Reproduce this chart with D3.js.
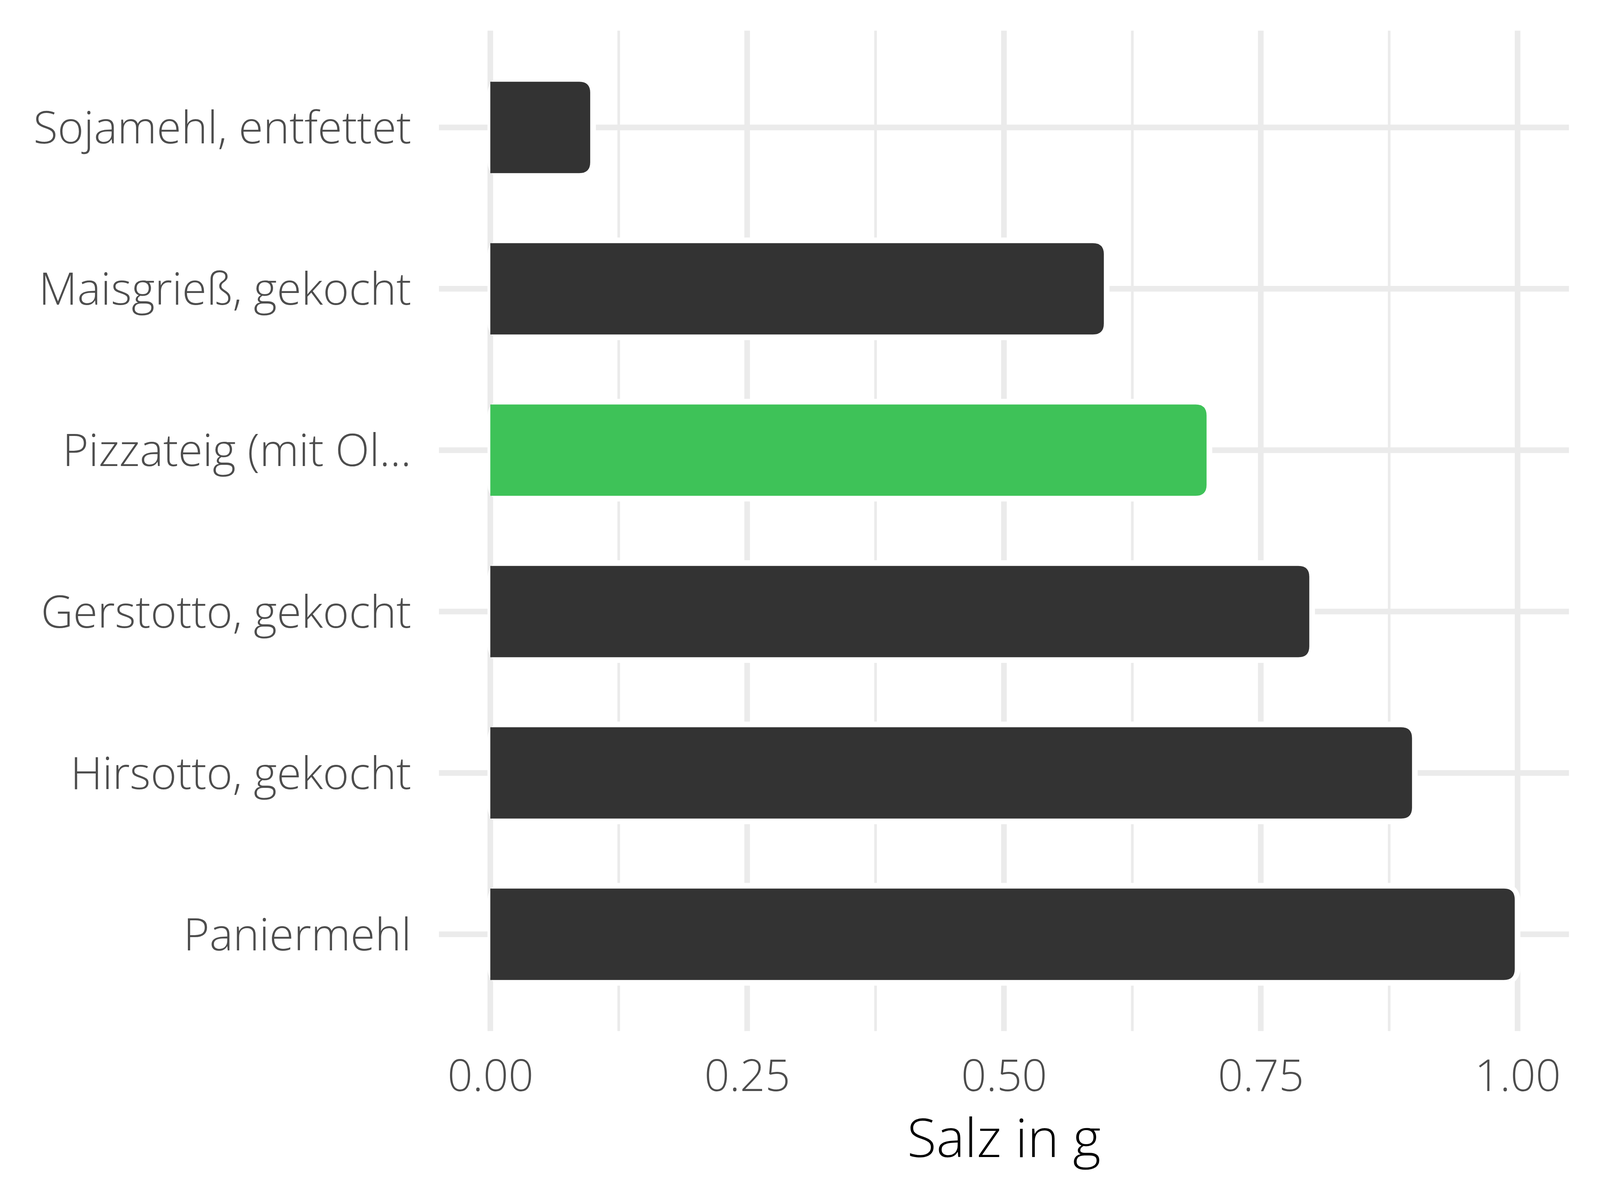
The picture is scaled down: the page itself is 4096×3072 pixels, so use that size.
<!DOCTYPE html>
<html>
<head>
<meta charset="utf-8">
<script src="https://cdn.jsdelivr.net/npm/d3@7"></script>
<style>
  html, body { margin: 0; padding: 0; background: #ffffff; }
  svg { display: block; }
</style>
</head>
<body>
<svg id="chart" width="4096" height="3072"></svg>
<script>
// ---- data ----
const categories = [
  "Sojamehl, entfettet",
  "Maisgrieß, gekocht",
  "Pizzateig (mit Ol...",
  "Gerstotto, gekocht",
  "Hirsotto, gekocht",
  "Paniermehl"
];
const values = [0.1, 0.6, 0.7, 0.8, 0.9, 1.0];
const highlighted = [false, false, true, false, false, false];
const majorTicks = [0, 0.25, 0.5, 0.75, 1.0];
const minorTicks = [0.125, 0.375, 0.625, 0.875];
const xTitle = "Salz in g";

// ---- layout ----
const W = 4096, H = 3072;
const x0px = 1255.2, x1px = 3885.0;          // positions of 0 and 1
const panelTop = 78.4, panelBottom = 2639.6;
const span = x1px - x0px;
const panelLeft = x0px - 0.05 * span, panelRight = x1px + 0.05 * span;

const x = d3.scaleLinear().domain([0, 1]).range([x0px, x1px]);
const y = d3.scalePoint().domain(categories).range([panelTop, panelBottom]).padding(0.6);

const svg = d3.select("#chart");
svg.append("rect").attr("width", W).attr("height", H).attr("fill", "#ffffff");

const grid = svg.append("g").attr("class", "grid");
// minor vertical gridlines
grid.selectAll("line.minor").data(minorTicks).enter().append("line")
  .attr("x1", d => x(d)).attr("x2", d => x(d))
  .attr("y1", panelTop).attr("y2", panelBottom)
  .attr("stroke", "#EBEBEB").attr("stroke-width", 6.8);
// major vertical gridlines
grid.selectAll("line.major").data(majorTicks).enter().append("line")
  .attr("x1", d => x(d)).attr("x2", d => x(d))
  .attr("y1", panelTop).attr("y2", panelBottom)
  .attr("stroke", "#EBEBEB").attr("stroke-width", 14.4);
// horizontal gridlines
grid.selectAll("line.h").data(categories).enter().append("line")
  .attr("x1", panelLeft).attr("x2", panelRight)
  .attr("y1", d => y(d)).attr("y2", d => y(d))
  .attr("stroke", "#EBEBEB").attr("stroke-width", 14.5);

// ---- bars ----
const halfH = 116.9;     // half height of dark bar
const halo = 14.5;       // white outline around bars
const inset = 7.25;      // bar end inset relative to value
const r = 28;            // corner radius

function rightRounded(xl, xr, yt, yb, rad) {
  const rr = Math.min(rad, (xr - xl), (yb - yt) / 2);
  return `M${xl},${yt} L${xr - rr},${yt} Q${xr},${yt} ${xr},${yt + rr} ` +
         `L${xr},${yb - rr} Q${xr},${yb} ${xr - rr},${yb} L${xl},${yb} Z`;
}

const data = categories.map((c, i) => ({ c, v: values[i], hl: highlighted[i] }));

const bars = svg.append("g").attr("class", "bars");
bars.selectAll("rect.halo").data(data).enter().append("rect")
  .attr("x", x(0) - 7.25)
  .attr("y", d => y(d.c) - halfH - halo)
  .attr("width", d => x(d.v) + inset - (x(0) - 7.25))
  .attr("height", 2 * (halfH + halo))
  .attr("rx", r + halo).attr("ry", r + halo)
  .attr("fill", "#ffffff");
bars.selectAll("path.bar").data(data).enter().append("path")
  .attr("d", d => rightRounded(x(0), x(d.v) - inset, y(d.c) - halfH, y(d.c) + halfH, r))
  .attr("fill", d => d.hl ? "#3EC258" : "#333333");

// ---- axes ----
const fontFam = "'Open Sans', 'Noto Sans', sans-serif";

const xAxis = d3.axisBottom(x).tickValues(majorTicks).tickFormat(d3.format(".2f")).tickSize(0).tickPadding(0);
const gx = svg.append("g").attr("transform", `translate(0, 2793)`).call(xAxis);
gx.select(".domain").remove();
gx.selectAll("text")
  .attr("y", 0).attr("dy", null)
  .attr("fill", "#4D4D4D")
  .style("font-family", fontFam).style("font-size", "113px").style("font-weight", 300);

const yAxis = d3.axisLeft(y).tickSize(0).tickPadding(0);
const gy = svg.append("g").attr("transform", `translate(1053, 0)`).call(yAxis);
gy.select(".domain").remove();
gy.selectAll("text")
  .attr("x", 0).attr("y", 40.5).attr("dy", null)
  .attr("text-anchor", "end")
  .attr("fill", "#4D4D4D")
  .style("font-family", fontFam).style("font-size", "114px").style("font-weight", 300);

svg.append("text")
  .attr("x", (panelLeft + panelRight) / 2)
  .attr("y", 2962)
  .attr("text-anchor", "middle")
  .attr("fill", "#000000")
  .style("font-family", fontFam).style("font-size", "137px").style("font-weight", 300)
  .text(xTitle);
</script>
</body>
</html>
